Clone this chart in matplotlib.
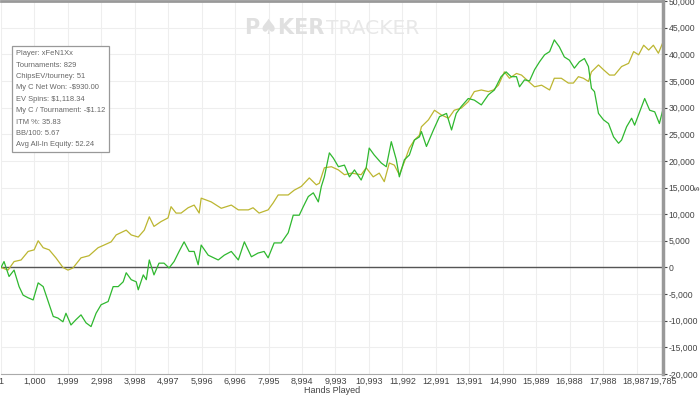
import matplotlib
matplotlib.use('Agg')
import matplotlib.pyplot as plt
from matplotlib.ticker import FuncFormatter

# hands played / chips (thousands)
ev_hands = [1, 210, 390, 600, 810, 990, 1110, 1260, 1440, 1640, 1850, 2000, 2150, 2390,
            2630, 2900, 3080, 3290, 3440, 3740, 3890, 4100, 4280, 4430, 4570, 4780, 4990,
            5080, 5230, 5380, 5590, 5770, 5920, 5980, 6280, 6580, 6880, 7090, 7390, 7530,
            7710, 7980, 8130, 8280, 8580, 8760, 8970, 9060, 9210, 9420, 9510, 9660, 9870,
            10080, 10260, 10470, 10760, 10910, 11120, 11300, 11450, 11600, 11750, 11900,
            12050, 12200, 12350, 12500, 12560, 12770, 12950, 13160, 13370, 13540, 13750,
            13960, 14140, 14350, 14560, 14710, 14860, 15040, 15190, 15400, 15550, 15760,
            15940, 16150, 16390, 16530, 16740, 16950, 17100, 17250, 17400, 17550, 17640,
            17850, 18000, 18180, 18330, 18540, 18750, 18900, 19050, 19200, 19350, 19490,
            19640, 19785]
ev_chips = [0, -0.5, 1.1, 1.4, 3.0, 3.3, 5.0, 3.7, 3.3, 1.8, 0, -0.5, -0.1, 1.8,
            2.2, 3.7, 4.2, 4.8, 6.1, 7.0, 6.1, 5.7, 7.0, 9.5, 7.7, 8.6, 9.3,
            11.4, 10.2, 10.2, 11.2, 11.7, 10.2, 13.0, 12.3, 11.1, 11.7, 10.8, 10.8, 11.2,
            10.2, 10.8, 12.1, 13.6, 13.6, 14.5, 15.2, 15.8, 16.8, 15.5, 15.8, 18.7, 18.9,
            18.3, 17.4, 17.7, 17.4, 18.7, 17.0, 17.7, 16.1, 19.6, 19.2, 17.4,
            19.8, 22.4, 23.9, 24.8, 26.4, 27.7, 29.5, 28.6, 28.0, 29.5, 29.9,
            31.1, 33.0, 33.3, 33.0, 33.3, 34.2, 36.7, 35.5, 36.4, 36.1, 34.9,
            33.9, 34.2, 33.3, 35.5, 35.5, 34.6, 34.6, 35.8, 35.5, 34.9, 36.7,
            38.0, 37.1, 36.1, 36.1, 37.7, 38.3, 40.5, 39.9, 41.7, 40.8, 41.7,
            40.2, 42.4]

net_hands = [1, 90, 150, 240, 390, 540, 660, 810, 960, 1110, 1260, 1410, 1560, 1700,
             1850, 1940, 2090, 2240, 2390, 2540, 2690, 2840, 2990, 3200, 3350, 3500, 3650,
             3740, 3890, 4040, 4100, 4250, 4340, 4430, 4570, 4720, 4870, 5020, 5170, 5320,
             5470, 5620, 5770, 5890, 5980, 6190, 6490, 6670, 6880, 7090, 7270, 7480, 7680,
             7860, 7980, 8160, 8370, 8580, 8730, 8910, 9030, 9180, 9330, 9480, 9570, 9660,
             9810, 9930, 10080, 10260, 10410, 10560, 10760, 10910, 11000, 11150, 11360,
             11510, 11660, 11810, 11900, 12050, 12200, 12350, 12500, 12560, 12710, 12920,
             13100, 13310, 13460, 13600, 13750, 13960, 14140, 14350, 14560, 14740, 14940,
             15090, 15240, 15400, 15490, 15640, 15790, 15940, 16090, 16240, 16390, 16530,
             16680, 16830, 16980, 17130, 17280, 17430, 17550, 17640, 17730, 17850, 18000,
             18150, 18300, 18450, 18540, 18690, 18840, 18930, 19080, 19230, 19380, 19530,
             19670, 19785]
net_chips = [0, 1.1, 0, -1.7, -0.5, -3.6, -5.2, -5.7, -6.1, -2.9, -3.6, -6.4, -9.2, -9.5,
             -10.2, -8.6, -10.8, -9.8, -8.9, -10.4, -11.1, -8.6, -7.0, -6.4, -3.6, -3.6, -2.7,
             -1.0, -2.3, -2.7, -4.2, -1.4, -2.3, 1.4, -1.4, 0.8, 0.8, -0.1, 1.1, 3.0,
             4.8, 3.0, 3.0, 0.5, 4.2, 2.3, 1.4, 2.3, 3.0, 1.4, 4.8, 2.0, 2.7,
             3.0, 1.8, 4.6, 4.6, 6.5, 9.8, 9.8, 11.4, 13.3, 14.0, 12.3, 15.2, 17.0,
             21.5, 20.5, 18.9, 19.2, 17.0, 18.3, 16.4, 18.7, 22.4, 21.1, 19.6,
             18.9, 23.6, 20.2, 17.0, 20.2, 21.1, 23.9, 24.5, 25.5, 22.7, 25.8,
             28.3, 28.9, 25.8, 28.9, 30.2, 31.7, 31.4, 30.5, 32.4, 33.3, 35.8,
             36.7, 35.8, 35.8, 33.9, 35.2, 35.0, 37.1, 38.6, 39.9, 40.5, 42.7,
             41.4, 39.5, 38.9, 37.4, 38.6, 39.2, 37.7, 33.6, 33.0, 28.9, 27.7,
             27.0, 24.5, 23.3, 23.9, 26.4, 28.0, 26.7, 29.2, 31.7, 29.5, 29.2,
             27.0, 29.9]

x_ticks = [1, 1000, 1999, 2998, 3998, 4997, 5996, 6996, 7995, 8994, 9993, 10993,
           11992, 12991, 13991, 14990, 15989, 16988, 17988, 18987, 19785]

info_lines = ['Player: xFeN1Xx', 'Tournaments: 829', 'ChipsEV/tourney: 51',
              'My C Net Won: -$930.00', 'EV Spins: $1,118.34', 'My C / Tournament: -$1.12',
              'ITM %: 35.83', 'BB/100: 5.67', 'Avg All-In Equity: 52.24']


def main():
    plt.rcParams['font.family'] = ['Liberation Sans Narrow', 'Liberation Sans', 'DejaVu Sans']
    fig = plt.figure(figsize=(7, 3.96), dpi=100)
    ax = fig.add_axes([0.0015, 1 - 374 / 396, 0.946, 373 / 396])

    ax.plot(ev_hands, [v * 1000 for v in ev_chips], color='#bcb631', lw=0.9)
    ax.plot(net_hands, [v * 1000 for v in net_chips], color='#2fb82f', lw=0.9)
    ax.axhline(0, color='#555555', lw=1.0, zorder=1)

    ax.set_xlim(1, 19785)
    ax.set_ylim(-20000, 50000)
    ax.set_xticks(x_ticks)
    ax.set_xticklabels(['{:,}'.format(t) for t in x_ticks])
    ax.set_yticks(range(-20000, 50001, 5000))
    ax.yaxis.set_major_formatter(FuncFormatter(lambda v, p: '{:,}'.format(int(v))))
    ax.yaxis.tick_right()
    ax.tick_params(axis='y', labelsize=6.2, colors='#444444', length=3, width=0.8, pad=1)
    ax.tick_params(axis='x', labelsize=6.5, colors='#444444', length=0, pad=2)
    ax.set_xlabel('Hands Played', fontsize=6.5, color='#444444', labelpad=0)
    # small rotated y label at the far right
    fig.text(0.9965, 0.525, '$', fontsize=5, color='#444444', rotation=90,
             ha='center', va='center')

    ax.grid(True, color='#eeeeee', lw=0.8)
    ax.set_axisbelow(True)
    ax.spines['left'].set_visible(False)
    ax.spines['right'].set_color('#999999')
    ax.spines['right'].set_linewidth(2.5)
    ax.spines['top'].set_color('#999999')
    ax.spines['top'].set_linewidth(2.0)
    ax.spines['bottom'].set_color('#aaaaaa')
    ax.spines['bottom'].set_linewidth(0.8)

    # watermark
    fig.text(0.464, 0.929, 'P\u2660KER', fontsize=15, fontweight='bold', color='#e0e0e0',
             ha='right', va='center', family=['Liberation Sans Narrow', 'DejaVu Sans'])
    fig.text(0.466, 0.929, 'TRACKER', fontsize=14.6, color='#e8e8e8',
             ha='left', va='center', family=['Liberation Sans Narrow', 'DejaVu Sans'])

    ax.text(0.0225, 0.868, '\n'.join(info_lines), transform=ax.transAxes, fontsize=5.4,
            color='#666666', va='top', ha='left', linespacing=1.88,
            family=['Liberation Sans', 'DejaVu Sans'],
            bbox=dict(boxstyle='square,pad=0.5', fc='white', ec='#999999', lw=0.9))

    fig.savefig('out.png', dpi=100)
    plt.close(fig)


if __name__ == '__main__':
    main()
